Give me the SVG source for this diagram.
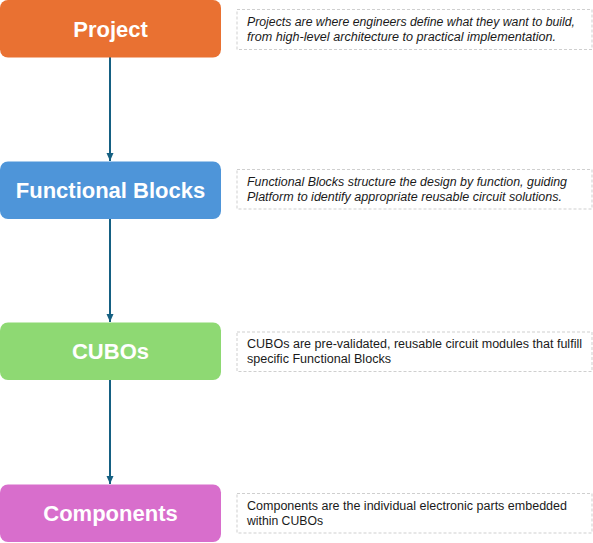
<svg xmlns="http://www.w3.org/2000/svg" width="593" height="543" viewBox="0 0 593 543">
<defs>
<style>
.node-label{font-family:"Liberation Sans",Arial,sans-serif;font-weight:bold;font-size:22px;fill:#ffffff;text-anchor:middle}
.desc{font-family:"Liberation Sans",Arial,sans-serif;font-size:12.5px;fill:#1a1a1a}
.it{font-style:italic}
.desc-box{fill:#ffffff;stroke:#cfcfcf;stroke-width:1;stroke-dasharray:3 2}
.conn{stroke:#156082;stroke-width:2;fill:none}
</style>
<marker id="arrow" viewBox="0 0 8 8" refX="8" refY="4" markerWidth="8" markerHeight="8" markerUnits="userSpaceOnUse" orient="auto">
<path d="M0,0.5 L8,4 L0,7.5 Z" fill="#156082"/>
</marker>
</defs>
<rect width="593" height="543" fill="#ffffff"/>
<g id="connectors">
<line class="conn" x1="110" y1="57" x2="110" y2="161" marker-end="url(#arrow)"/>
<line class="conn" x1="110" y1="219" x2="110" y2="322" marker-end="url(#arrow)"/>
<line class="conn" x1="110" y1="380" x2="110" y2="484" marker-end="url(#arrow)"/>
</g>
<g id="node-project">
<rect x="0" y="0" width="221" height="57.5" rx="8" fill="#E97132"/>
<text class="node-label" x="110.5" y="36.5">Project</text>
</g>
<g id="desc-project">
<rect class="desc-box" x="237" y="9.5" width="355" height="40"/>
<text class="desc it" x="247" y="26" textLength="328" lengthAdjust="spacingAndGlyphs">Projects are where engineers define what they want to build,</text>
<text class="desc it" x="247" y="41" textLength="309" lengthAdjust="spacingAndGlyphs">from high-level architecture to practical implementation.</text>
</g>
<g id="node-functional-blocks">
<rect x="0" y="161.5" width="221" height="57.5" rx="8" fill="#4E95D9"/>
<text class="node-label" x="110.5" y="198">Functional Blocks</text>
</g>
<g id="desc-functional-blocks">
<rect class="desc-box" x="237" y="169.5" width="355" height="39.5"/>
<text class="desc it" x="247" y="186" textLength="320" lengthAdjust="spacingAndGlyphs">Functional Blocks structure the design by function, guiding</text>
<text class="desc it" x="247" y="201" textLength="315" lengthAdjust="spacingAndGlyphs">Platform to identify appropriate reusable circuit solutions.</text>
</g>
<g id="node-cubos">
<rect x="0" y="322.5" width="221" height="57.5" rx="8" fill="#8ED973"/>
<text class="node-label" x="110.5" y="359">CUBOs</text>
</g>
<g id="desc-cubos">
<rect class="desc-box" x="237" y="332" width="355" height="39.5"/>
<text class="desc" x="247" y="347.5" textLength="335" lengthAdjust="spacingAndGlyphs">CUBOs are pre-validated, reusable circuit modules that fulfill</text>
<text class="desc" x="247" y="363" textLength="144" lengthAdjust="spacingAndGlyphs">specific Functional Blocks</text>
</g>
<g id="node-components">
<rect x="0" y="484.5" width="221" height="57.5" rx="8" fill="#D86ECC"/>
<text class="node-label" x="110.5" y="521">Components</text>
</g>
<g id="desc-components">
<rect class="desc-box" x="237" y="493.5" width="355" height="39.5"/>
<text class="desc" x="247" y="509.5" textLength="320" lengthAdjust="spacingAndGlyphs">Components are the individual electronic parts embedded</text>
<text class="desc" x="247" y="524.5" textLength="76" lengthAdjust="spacingAndGlyphs">within CUBOs</text>
</g>
</svg>
